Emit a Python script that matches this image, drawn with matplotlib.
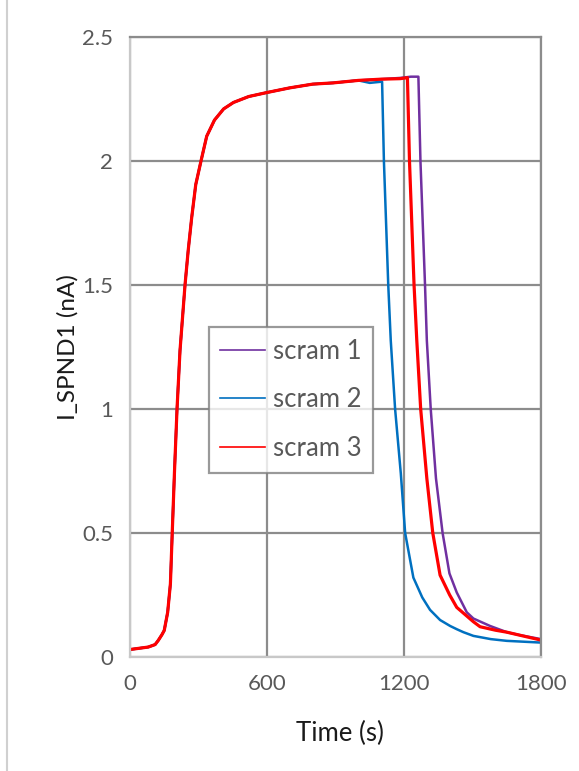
import matplotlib
matplotlib.use("Agg")
import matplotlib.pyplot as plt
from matplotlib.lines import Line2D

plt.rcParams['font.family'] = ['Lato', 'DejaVu Sans']

# heat-up, common to all three runs (s, nA)
rise_t = [0, 40, 80, 110, 124, 140, 150, 165, 177, 185, 195, 206, 219, 241, 255,
          270, 288, 311, 336, 370, 410, 453, 520, 599, 700, 800, 890, 1000]
rise_v = [0.03, 0.035, 0.04, 0.05, 0.067, 0.09, 0.107, 0.18, 0.295, 0.5, 0.75, 1.0,
          1.235, 1.5, 1.64, 1.77, 1.905, 2.0, 2.10, 2.165, 2.21, 2.236, 2.26, 2.276,
          2.295, 2.31, 2.315, 2.325]

# after the plateau, each scram
s1_t = [1100, 1183, 1230, 1263, 1272, 1292, 1300, 1317, 1340, 1369, 1399, 1431,
        1475, 1504, 1577, 1650, 1708, 1800]
s1_v = [2.33, 2.335, 2.34, 2.34, 2.0, 1.5, 1.276, 1.0, 0.72, 0.5, 0.337, 0.26,
        0.18, 0.155, 0.125, 0.10, 0.088, 0.072]

s2_t = [1050, 1104, 1112, 1131, 1142, 1161, 1186, 1205, 1241, 1280, 1314, 1358, 1402,
        1431, 1460, 1504, 1580, 1650, 1800]
s2_v = [2.315, 2.32, 2.0, 1.5, 1.276, 1.0, 0.74, 0.5, 0.32, 0.24, 0.19, 0.149, 0.125,
        0.112, 0.10, 0.085, 0.072, 0.065, 0.058]

s3_t = [1100, 1183, 1215, 1224, 1244, 1256, 1273, 1300, 1326, 1358, 1400, 1431, 1504,
        1533, 1600, 1650, 1720, 1800]
s3_v = [2.33, 2.332, 2.336, 2.0, 1.5, 1.276, 1.0, 0.72, 0.5, 0.33, 0.25, 0.2, 0.142,
        0.122, 0.108, 0.10, 0.085, 0.068]

names = ["scram 1", "scram 2", "scram 3"]
colors = ["#7030A0", "#0070C0", "#FF0000"]
widths = [1.8, 1.8, 2.3]

fig = plt.figure(figsize=(5.79, 7.71), dpi=100)
ax = fig.add_axes([0.2245, 0.1479, 0.7099, 0.8041])

series = [(s1_t, s1_v), (s2_t, s2_v), (s3_t, s3_v)]
for (tt, vv), name, c, w in zip(series, names, colors, widths):
    ax.plot(rise_t + tt, rise_v + vv, color=c, lw=w, label=name)

ax.set_xlim(0, 1800)
ax.set_ylim(0, 2.5)
ax.set_xticks([0, 600, 1200, 1800])
ax.set_yticks([0, 0.5, 1, 1.5, 2, 2.5])
ax.set_yticklabels(["0", "0.5", "1", "1.5", "2", "2.5"])

ax.grid(True, color="#8C8C8C", lw=1.6)
ax.set_axisbelow(True)
for s in ["top", "right"]:
    ax.spines[s].set_color("#8C8C8C")
    ax.spines[s].set_linewidth(1.6)
for s in ["left", "bottom"]:
    ax.spines[s].set_color("#C8C8C8")
    ax.spines[s].set_linewidth(1.6)

ax.tick_params(length=0, labelsize=16, colors="#595959")
ax.tick_params(axis="y", pad=12)
ax.tick_params(axis="x", pad=12)

ax.set_xlabel("Time (s)", fontsize=18.5, color="#1A1A1A")
ax.set_ylabel("I_SPND1 (nA)", fontsize=17.5, color="#1A1A1A")
ax.xaxis.set_label_coords(0.51, -0.103)
ax.yaxis.set_label_coords(-0.125, 0.5)

leg = ax.legend(loc="upper left", bbox_to_anchor=(0.192, 0.532), fancybox=False,
                edgecolor="#808080", fontsize=18.5, handlelength=1.75,
                labelspacing=0.92, borderpad=0.45, handletextpad=0.3,
                borderaxespad=0)
leg.get_frame().set_linewidth(1.6)
for t in leg.get_texts():
    t.set_color("#595959")
for h in leg.get_lines():
    h.set_linewidth(1.2)

# outer chart border on the left
fig.add_artist(Line2D([7 / 579, 7 / 579], [0, 1], color="#D0D0D0", lw=1.5))

fig.savefig("out.png", dpi=100)
